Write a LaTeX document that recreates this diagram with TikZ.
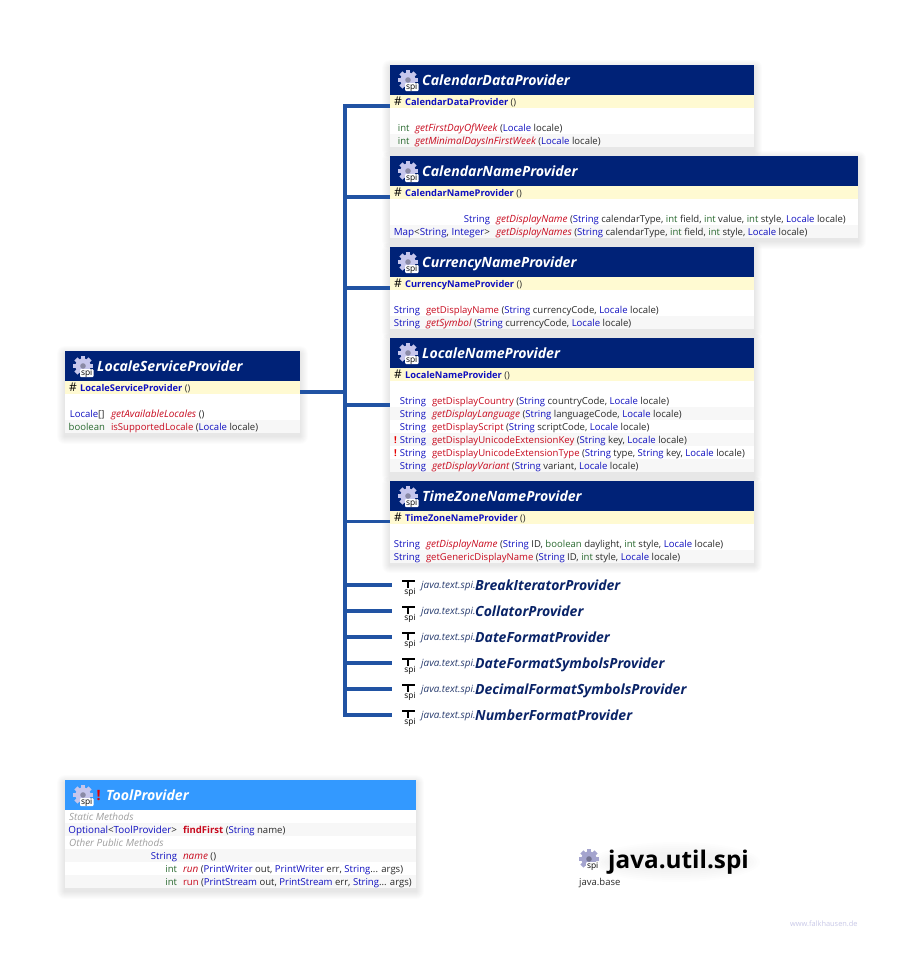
\documentclass[tikz,border=0pt]{standalone}
\usepackage{fontspec}
\setmainfont{Open Sans}
\newfontfamily\rowfont{Open Sans}
\definecolor{hdr}{HTML}{002277}
\definecolor{hdrtool}{HTML}{3399FF}
\definecolor{ctorbg}{HTML}{FFFAD2}
\definecolor{altbg}{HTML}{F7F7F7}
\definecolor{conncol}{HTML}{2153A3}
\definecolor{cT}{HTML}{1010C0}
\definecolor{cK}{HTML}{2A6A30}
\definecolor{cM}{HTML}{C80A1E}
\definecolor{cP}{HTML}{2A2A2A}
\definecolor{ifn}{HTML}{0A2468}
\newcommand{\cT}[1]{\textcolor{cT}{#1}}
\newcommand{\cK}[1]{\textcolor{cK}{#1}}
\newcommand{\cM}[1]{\textcolor{cM}{#1}}
\newcommand{\cI}[1]{\textcolor{cM}{\fontsize{9.95}{11}\selectfont\itshape #1}}
\newcommand{\cF}[1]{\textcolor{cM}{\bfseries #1}}
\newcommand{\cX}{\textcolor{red!90!black}{\bfseries !}}
\newcommand{\wider}{\fontsize{9.85}{11}\selectfont}
\newcount\txtno
\tikzset{
  x=1pt,y=-1pt,
  rowtxt/.style={inner sep=0pt,outer sep=0pt,text=cP,font=\rowfont\fontsize{9.55}{11}\selectfont},
  titletxt/.style={inner sep=0pt,text=white,font=\bfseries\itshape\fontsize{14.1}{16}\selectfont},
  ctortxt/.style={inner sep=0pt,text=cT,font=\rowfont\bfseries\fontsize{9.3}{11}\selectfont},
  hashtxt/.style={inner sep=0pt,text=black,font=\fontsize{12}{12}\selectfont},
  spitxt/.style={inner sep=0pt,text=black,font=\fontsize{8.4}{9}\selectfont},
  clsbox/.style={inner sep=0pt,outer sep=0pt,fill=white,anchor=center},
  conn/.style={draw=conncol,line width=3.2pt,line join=miter},
  ifbox/.style={inner sep=0pt,outer sep=0pt,minimum width=30pt,minimum height=20pt},
  pkgtxt/.style={inner sep=0pt,text=ifn!75!gray,font=\rowfont\itshape\fontsize{9.9}{10}\selectfont},
  ifname/.style={inner sep=0pt,text=ifn,font=\bfseries\itshape\fontsize{14}{16}\selectfont},
  lbltxt/.style={inner sep=0pt,text=gray!75,font=\rowfont\itshape\fontsize{9.9}{11}\selectfont}
}
% left / right aligned row text, given the vertical centre of the row
\newcommand{\rowL}[3]{\global\advance\txtno by 1
  \node[rowtxt,anchor=base west] (t\the\txtno) at (#1,#2+3.8) {#3};}
\newcommand{\rowR}[3]{\global\advance\txtno by 1
  \node[rowtxt,anchor=base east] (t\the\txtno) at (#1,#2+3.8) {#3};}
\newcommand{\band}[4]{\fill[#4] (#1,#2) rectangle ++(#3,13);}
% gear icon: left, top of the 20px gear
\newcommand{\gearicon}[3]{%
  \begin{scope}[shift={(#1+10,#2+10)}]
    \foreach \a in {0,45,...,315}{\fill[#3,rotate=\a] (-2.2,-10) rectangle (2.2,-5);}
    \fill[#3] (0,0) circle (7.6pt);
    \fill[#3!70!black] (0,0) circle (2.8pt);
  \end{scope}
  \fill[white,rounded corners=1pt] (#1+7,#2+13) rectangle (#1+20.5,#2+21);
  \global\advance\txtno by 1
  \node[spitxt,anchor=base] (t\the\txtno) at (#1+13.7,#2+19.6) {spi};}
\newcommand{\softshadow}[4]{%
  \foreach \s in {1,2,...,8}{
    \fill[black,opacity=.01,rounded corners=\s pt] (#1-\s,#2-\s+3) rectangle (#1+#3+\s,#2+#4+\s+3);}}
\newcommand{\basebox}[6]{%
  \softshadow{#2}{#3}{#4}{#5}
  \node[clsbox,minimum width=#4pt,minimum height=#5pt] (#1) at ({#2+#4/2},{#3+#5/2}) {};
  \fill[#6] (#2,#3) rectangle ++(#4,30);
  \gearicon{#2+8}{#3+5}{gray!50!blue!30!white}}
\newcommand{\classbox}[7]{%
  \basebox{#1}{#2}{#3}{#4}{#5}{hdr}
  \node[titletxt,anchor=base west] (#1title) at (#2+32,#3+20) {#6};
  \fill[ctorbg] (#2,#3+30) rectangle ++(#4,13);
  \node[hashtxt,anchor=base west] (#1hash) at (#2+4,#3+40.7) {\#};
  \node[ctortxt,anchor=base west] (#1ctor) at (#2+15,#3+40.3) {#7 \textcolor{cP}{\mdseries ()}};}
\newcommand{\ifaceitem}[3]{%
  \node[ifbox] (#1) at (407,#2) {};
  \draw[black,line width=1.7pt] (402,#2-4.3) -- (414.5,#2-4.3);
  \draw[black,line width=1.7pt] (408.2,#2-4.3) -- (408.2,#2+3.2);
  \node[spitxt,anchor=base] (#1spi) at (410,#2+9.2) {spi};
  \node[pkgtxt,anchor=base west] (#1pkg) at (421,#2+3.6) {java.text.spi.};
  \node[ifname,anchor=base west] (#1name) at (475,#2+5) {#3};}
\begin{document}
\begin{tikzpicture}
\useasboundingbox (0,0) rectangle (914,969);
\fill[white] (0,0) rectangle (914,969);

% LocaleServiceProvider
\classbox{lsp}{65}{351}{235}{82}{LocaleServiceProvider}{LocaleServiceProvider}
\band{65}{420}{235}{altbg}
\rowR{104.5}{413.5}{\cT{Locale}[]}
\rowL{111}{413.5}{\cI{getAvailableLocales} ()}
\rowR{105}{426.5}{\cK{boolean}}
\rowL{111}{426.5}{\cM{isSupportedLocale} (\cT{Locale} locale)}

% CalendarDataProvider
\classbox{cdp}{390}{65}{364}{82}{CalendarDataProvider}{CalendarDataProvider}
\band{390}{134}{364}{altbg}
\rowR{409.5}{127.5}{\cK{int}}
\rowL{415}{127.5}{\cI{getFirstDayOfWeek} (\cT{Locale} locale)}
\rowR{409.5}{140.5}{\cK{int}}
\rowL{415}{140.5}{\cI{getMinimalDaysInFirstWeek} (\cT{Locale} locale)}

% CalendarNameProvider
\classbox{cnp}{390}{156}{468}{82}{CalendarNameProvider}{CalendarNameProvider}
\band{390}{225}{468}{altbg}
\rowR{490}{218.5}{\cT{String}}
\rowL{496}{218.5}{\cI{getDisplayName} (\cT{String} calendarType, \cK{int} field, \cK{int} value, \cK{int} style, \cT{Locale} locale)}
\rowR{490}{231.5}{\wider\cT{Map}<\cT{String}, \cT{Integer}>}
\rowL{496}{231.5}{\cI{getDisplayNames} (\cT{String} calendarType, \cK{int} field, \cK{int} style, \cT{Locale} locale)}

% CurrencyNameProvider
\classbox{cur}{390}{247}{364}{82}{CurrencyNameProvider}{CurrencyNameProvider}
\band{390}{316}{364}{altbg}
\rowR{420}{309.5}{\cT{String}}
\rowL{426}{309.5}{\cM{getDisplayName} (\cT{String} currencyCode, \cT{Locale} locale)}
\rowR{420}{322.5}{\cT{String}}
\rowL{426}{322.5}{\cI{getSymbol} (\cT{String} currencyCode, \cT{Locale} locale)}

% LocaleNameProvider
\classbox{lnp}{390}{338}{364}{134}{LocaleNameProvider}{LocaleNameProvider}
\band{390}{407}{364}{altbg}
\band{390}{433}{364}{altbg}
\band{390}{459}{364}{altbg}
\rowR{426}{400.5}{\cT{String}}
\rowL{432}{400.5}{\cM{getDisplayCountry} (\cT{String} countryCode, \cT{Locale} locale)}
\rowR{426}{413.5}{\cT{String}}
\rowL{432}{413.5}{\cI{getDisplayLanguage} (\cT{String} languageCode, \cT{Locale} locale)}
\rowR{426}{426.5}{\cT{String}}
\rowL{432}{426.5}{\cM{getDisplayScript} (\cT{String} scriptCode, \cT{Locale} locale)}
\rowL{394}{439.5}{\cX}
\rowR{426}{439.5}{\cT{String}}
\rowL{432}{439.5}{\cM{getDisplayUnicodeExtensionKey} (\cT{String} key, \cT{Locale} locale)}
\rowL{394}{452.5}{\cX}
\rowR{426}{452.5}{\cT{String}}
\rowL{432}{452.5}{\cM{getDisplayUnicodeExtensionType} (\cT{String} type, \cT{String} key, \cT{Locale} locale)}
\rowR{426}{465.5}{\cT{String}}
\rowL{432}{465.5}{\cI{getDisplayVariant} (\cT{String} variant, \cT{Locale} locale)}

% TimeZoneNameProvider
\classbox{tzn}{390}{481}{364}{81}{TimeZoneNameProvider}{TimeZoneNameProvider}
\band{390}{550}{364}{altbg}
\rowR{420}{543.5}{\cT{String}}
\rowL{426}{543.5}{\cI{getDisplayName} (\cT{String} ID, \cK{boolean} daylight, \cK{int} style, \cT{Locale} locale)}
\rowR{420}{556.5}{\cT{String}}
\rowL{426}{556.5}{\cM{getGenericDisplayName} (\cT{String} ID, \cK{int} style, \cT{Locale} locale)}

% interfaces
\ifaceitem{ia}{585}{BreakIteratorProvider}
\ifaceitem{ib}{611}{CollatorProvider}
\ifaceitem{ic}{637}{DateFormatProvider}
\ifaceitem{id}{663}{DateFormatSymbolsProvider}
\ifaceitem{ie}{689}{DecimalFormatSymbolsProvider}
\ifaceitem{if}{715}{NumberFormatProvider}

% connectors
\coordinate (trunk) at (345,392);
\draw[conn] (lsp.east) -- (trunk);
\foreach \n in {cdp,cnp,cur,lnp,tzn,ia,ib,ic,id,ie,if}{
  \draw[conn] (trunk) |- (\n.west);
}

% ToolProvider
\basebox{tool}{65}{780}{351}{108}{hdrtool}
\node[inner sep=0pt,anchor=base west,text=red!90!black,font=\bfseries\fontsize{14.2}{16}\selectfont] (toolx) at (96.5,800) {!};
\node[titletxt,anchor=base west] (tooltitle) at (106,800) {ToolProvider};
\band{65}{823}{351}{altbg}
\band{65}{849}{351}{altbg}
\band{65}{875}{351}{altbg}
\node[lbltxt,anchor=base west] (toolstat) at (69,820.8) {Static Methods};
\node[lbltxt,anchor=base west] (toolother) at (69,846.8) {Other Public Methods};
\rowR{177}{829.5}{\wider\cT{Optional}<\cT{ToolProvider}>}
\rowL{183}{829.5}{\cF{findFirst} (\cT{String} name)}
\rowR{177}{855.5}{\cT{String}}
\rowL{183}{855.5}{\cI{name} ()}
\rowR{177}{868.5}{\cK{int}}
\rowL{183}{868.5}{\cI{run} (\cT{PrintWriter} out, \cT{PrintWriter} err, \cT{String}... args)}
\rowR{177}{881.5}{\cK{int}}
\rowL{183}{881.5}{\cM{run} (\cT{PrintStream} out, \cT{PrintStream} err, \cT{String}... args)}

% package label
\foreach \s in {1,2,...,6}{
  \fill[black,opacity=.008] (676,862) ellipse ({66+3*\s} and {8+2*\s});}
\gearicon{579}{849}{blue!30!gray!55!white}
\node[inner sep=0pt,anchor=base west,text=black,font=\bfseries\fontsize{24.3}{28}\selectfont] (pkgname) at (608,868) {java.util.spi};
\node[inner sep=0pt,anchor=base west,text=cP,font=\rowfont\fontsize{9.5}{11}\selectfont] (pkgmod) at (579,885) {java.base};
\node[inner sep=0pt,anchor=base west,text=gray!60!blue!30!white,font=\rowfont\fontsize{7.4}{9}\selectfont] (site) at (790,926) {www.falkhausen.de};
\end{tikzpicture}
\end{document}
